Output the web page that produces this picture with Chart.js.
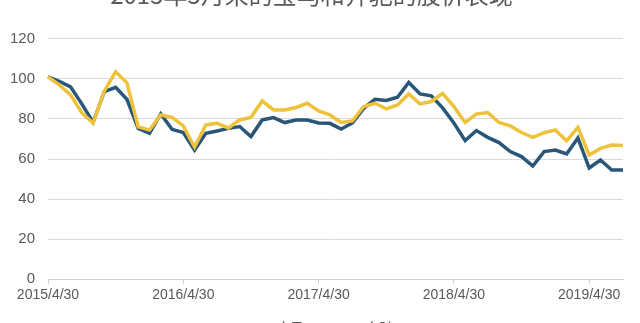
<!DOCTYPE html>
<html>
<head>
<meta charset="utf-8">
<script src="https://cdn.jsdelivr.net/npm/chart.js@4"></script>
<style>
    html, body { margin: 0; padding: 0; background: #fff; overflow: hidden; }
    body { width: 640px; height: 323px; position: relative; }
    #wrap { position: absolute; left: 0; top: -20px; width: 640px; height: 365px; }
</style>
</head>
<body>
<div id="wrap"><canvas id="chart"></canvas></div>
<script>
const months = [
    "2015/4/30", "2015/5/31", "2015/6/30", "2015/7/31", "2015/8/31", "2015/9/30",
    "2015/10/31", "2015/11/30", "2015/12/31", "2016/1/31", "2016/2/29", "2016/3/31",
    "2016/4/30", "2016/5/31", "2016/6/30", "2016/7/31", "2016/8/31", "2016/9/30",
    "2016/10/31", "2016/11/30", "2016/12/31", "2017/1/31", "2017/2/28", "2017/3/31",
    "2017/4/30", "2017/5/31", "2017/6/30", "2017/7/31", "2017/8/31", "2017/9/30",
    "2017/10/31", "2017/11/30", "2017/12/31", "2018/1/31", "2018/2/28", "2018/3/31",
    "2018/4/30", "2018/5/31", "2018/6/30", "2018/7/31", "2018/8/31", "2018/9/30",
    "2018/10/31", "2018/11/30", "2018/12/31", "2019/1/31", "2019/2/28", "2019/3/31",
    "2019/4/30", "2019/5/31", "2019/6/30", "2019/7/31",
];

// 宝马 (黄线)
const bmw = [
    101, 97, 92, 83, 78, 94, 103.5, 98, 76, 74.5, 82, 80.8,
    76.5, 66, 77, 77.8, 75.5, 79.5, 80.8, 89, 84.5, 84.5, 85.7, 87.8,
    84, 82, 78.2, 79, 86.2, 87.8, 85, 87, 92.5, 87.5, 88.7, 92.8,
    86.2, 78.2, 82.5, 83.2, 78.2, 76.5, 73.2, 70.8, 73.2, 74.5, 69, 75.8,
    62, 65.3, 67, 66.8,
];

// 奔驰 (蓝线)
const benz = [
    101, 98.8, 96, 87.5, 78.3, 93.7, 95.8, 89.8, 75.3, 72.8, 82.5, 74.8,
    73.2, 64.5, 72.8, 74, 75.3, 76.2, 71.2, 79.5, 80.7, 78.2, 79.5, 79.5,
    78, 77.8, 75, 78, 85.3, 89.8, 89.2, 90.8, 98.2, 92.5, 91.5, 85.5,
    78, 69.2, 74.2, 70.8, 68.2, 63.7, 61.2, 56.5, 63.7, 64.5, 62.5, 70.5,
    55.5, 59.5, 54.5, 54.5,
];

const yTicks = [0, 20, 40, 60, 80, 100, 120];

const labelEvery = 12;
const textGrey = "#595959";

new Chart(document.getElementById("chart"), {
    type: "line",
    data: {
        labels: months,
        datasets: [
            {
                label: "宝马",
                data: bmw,
                borderColor: "#EEC23A",
                backgroundColor: "#EEC23A",
                borderWidth: 3.5,
                pointRadius: 0,
                tension: 0,
            },
            {
                label: "奔驰",
                data: benz,
                borderColor: "#2A5679",
                backgroundColor: "#2A5679",
                borderWidth: 3.5,
                pointRadius: 0,
                tension: 0,
            },
        ],
    },
    options: {
        responsive: true,
        maintainAspectRatio: false,
        animation: false,
        layout: { padding: { left: 0, right: 17, top: 0, bottom: 0 } },
        plugins: {
            title: {
                display: true,
                text: "2015年5月来的宝马和奔驰的股价表现",
                color: textGrey,
                font: { family: "'Noto Sans CJK SC', sans-serif", size: 24, weight: "normal" },
                padding: { top: 0, bottom: 30 },
            },
            legend: {
                position: "bottom",
                labels: {
                    color: textGrey,
                    boxWidth: 40,
                    boxHeight: 3,
                    padding: 14,
                    font: { family: "'Noto Sans CJK SC', sans-serif", size: 14 },
                },
            },
            tooltip: { enabled: false },
        },
        scales: {
            x: {
                offset: false,
                border: { color: "#d0d0d0" },
                grid: {
                    drawOnChartArea: false,
                    tickLength: 5,
                    color: (ctx) => (ctx.index % labelEvery === 0 ? "#d0d0d0" : "rgba(0,0,0,0)"),
                },
                ticks: {
                    autoSkip: false,
                    maxRotation: 0,
                    color: textGrey,
                    font: { family: "'Liberation Sans', sans-serif", size: 14 },
                    callback: (val, i) => (i % labelEvery === 0 ? months[i] : ""),
                },
            },
            y: {
                min: yTicks[0],
                max: yTicks[yTicks.length - 1],
                afterFit: (scale) => { scale.width = 48; },
                border: { display: false },
                grid: { color: "#d9d9d9", drawTicks: false },
                ticks: {
                    stepSize: 20,
                    padding: 13,
                    color: textGrey,
                    font: { family: "'Liberation Sans', sans-serif", size: 15 },
                },
            },
        },
    },
});
</script>
</body>
</html>
